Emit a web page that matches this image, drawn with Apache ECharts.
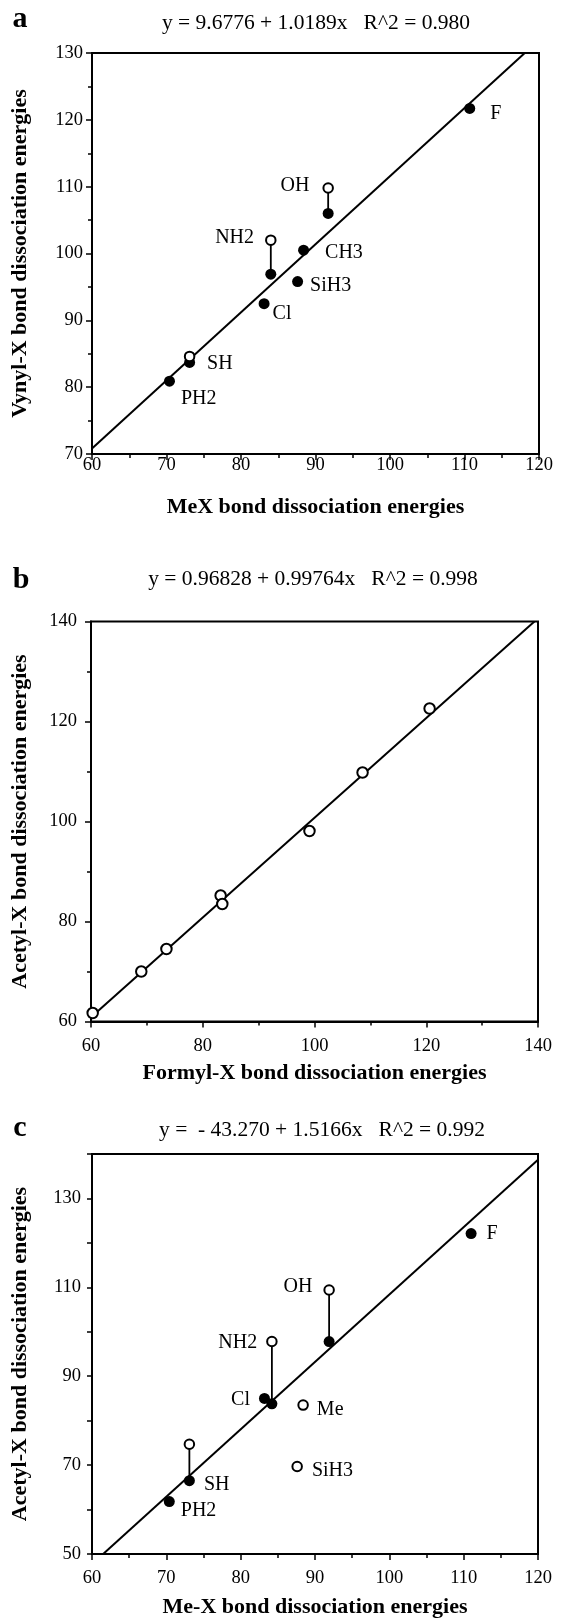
<!DOCTYPE html>
<html><head><meta charset="utf-8">
<script src="https://cdn.jsdelivr.net/npm/echarts@6/dist/echarts.min.js"></script>
<style>html,body{margin:0;padding:0;background:#fff}#c{width:573px;height:1619px}</style>
</head><body><div id="c"></div>
<script>
// ---------- Panel a : Vinyl-X vs MeX ----------
const aNames       = ['F', 'OH', 'NH2', 'CH3', 'SiH3', 'Cl', 'SH', 'PH2'];
const aMeX         = [110.7, 91.7, 84.0, 88.4, 87.6, 83.1, 73.1, 70.4];
const aVinylFilled = [121.7, 106.0, 96.9, 100.5, 95.8, 92.5, 83.7, 80.9];
const aVinylOpen   = [null, 109.8, 102.0, null, null, null, 84.6, null];
const aFit         = [9.6776, 1.0189];
const aEquation    = 'y = 9.6776 + 1.0189x   R^2 = 0.980';
const aXTicks      = [60, 70, 80, 90, 100, 110, 120];
const aYTicks      = [70, 80, 90, 100, 110, 120, 130];

// ---------- Panel b : Acetyl-X vs Formyl-X ----------
const bFormyl      = [60.3, 69.0, 73.5, 83.2, 83.5, 99.1, 108.6, 120.6];
const bAcetyl      = [61.7, 70.0, 74.5, 85.2, 83.5, 98.1, 109.8, 122.6];
const bFit         = [0.96828, 0.99764];
const bEquation    = 'y = 0.96828 + 0.99764x   R^2 = 0.998';
const bXTicks      = [60, 80, 100, 120, 140];
const bYTicks      = [60, 80, 100, 120, 140];

// ---------- Panel c : Acetyl-X vs Me-X ----------
const cNames       = ['F', 'OH', 'NH2', 'Cl', 'Me', 'SiH3', 'SH', 'PH2'];
const cMeX         = [111.0, 91.9, 84.2, 83.2, 88.4, 87.6, 73.1, 70.4];
const cAcetylFilled= [122.1, 97.8, 83.8, 85.0, null, null, 66.5, 61.8];
const cAcetylOpen  = [null, 109.4, 97.8, null, 83.5, 69.7, 74.7, null];
const cFit         = [-43.270, 1.5166];
const cEquation    = 'y =  - 43.270 + 1.5166x   R^2 = 0.992';
const cXTicks      = [60, 70, 80, 90, 100, 110, 120];
const cYTicks      = [50, 70, 90, 110, 130];
const cYMax        = 140;

const SERIF = '"Liberation Serif", "Times New Roman", serif';

// label placement (style only)
const aLabelPos = {
  F:    {on: 'filled', pos: 'right', d: 15, off: [0, 5]},
  OH:   {on: 'open',   pos: 'left',  d: 13, off: [0, -2]},
  NH2:  {on: 'open',   pos: 'left',  d: 11, off: [0, -2]},
  CH3:  {on: 'filled', pos: 'right', d: 16, off: [0, 3]},
  SiH3: {on: 'filled', pos: 'right', d: 7,  off: [0, 4]},
  Cl:   {on: 'filled', pos: 'right', d: 3,  off: [0, 10]},
  SH:   {on: 'filled', pos: 'right', d: 12, off: [0, 1]},
  PH2:  {on: 'filled', pos: 'right', d: 6,  off: [0, 18]}
};
const cLabelPos = {
  F:    {on: 'filled', pos: 'right', d: 10, off: [0, 0]},
  OH:   {on: 'open',   pos: 'left',  d: 11, off: [0, -3]},
  NH2:  {on: 'open',   pos: 'left',  d: 9,  off: [0, 1]},
  Cl:   {on: 'filled', pos: 'left',  d: 9,  off: [0, 1]},
  Me:   {on: 'open',   pos: 'right', d: 8,  off: [0, 5]},
  SiH3: {on: 'open',   pos: 'right', d: 9,  off: [0, 4]},
  SH:   {on: 'filled', pos: 'right', d: 9,  off: [0, 4]},
  PH2:  {on: 'filled', pos: 'right', d: 6,  off: [0, 9]}
};

const grids = [
  {left: 92, top: 53,    width: 447, height: 401},
  {left: 91, top: 621.5, width: 447, height: 400},
  {left: 92, top: 1154,  width: 446, height: 401}
].map(g => Object.assign(g, {show: true, borderColor: '#000', borderWidth: 2, backgroundColor: 'transparent', containLabel: false}));

function tickInterval(t) { return t[1] - t[0]; }

const TICK_FONT = 18.5, NAME_FONT = 22, POINT_FONT = 20;

function makeX(gi, ticks, name, labelMargin, nameGap) {
  return {
    type: 'value', gridIndex: gi, min: ticks[0], max: ticks[ticks.length - 1],
    interval: tickInterval(ticks), position: 'bottom',
    name: name, nameLocation: 'middle', nameGap: nameGap,
    nameTextStyle: {fontFamily: SERIF, fontWeight: 'bold', fontSize: NAME_FONT, color: '#000'},
    axisLine: {show: true, onZero: false, lineStyle: {color: '#000', width: 2}},
    axisTick: {show: true, inside: false, length: 6, lineStyle: {color: '#000', width: 1.5}},
    minorTick: {show: true, splitNumber: 2, length: 4, lineStyle: {color: '#000', width: 1.5}},
    axisLabel: {fontFamily: SERIF, fontSize: TICK_FONT, color: '#000', margin: labelMargin},
    splitLine: {show: false}
  };
}
function makeY(gi, ticks, name, labelMargin, nameGap, opts) {
  const ax = {
    type: 'value', gridIndex: gi, min: ticks[0], max: ticks[ticks.length - 1],
    interval: tickInterval(ticks), position: 'left',
    name: name, nameLocation: 'middle', nameGap: nameGap,
    nameTextStyle: {fontFamily: SERIF, fontWeight: 'bold', fontSize: NAME_FONT, color: '#000'},
    axisLine: {show: true, onZero: false, lineStyle: {color: '#000', width: 2}},
    axisTick: {show: true, inside: false, length: 6, lineStyle: {color: '#000', width: 1.5}},
    minorTick: {show: true, splitNumber: 2, length: 4, lineStyle: {color: '#000', width: 1.5}},
    axisLabel: {fontFamily: SERIF, fontSize: TICK_FONT, color: '#000', margin: labelMargin},
    splitLine: {show: false}
  };
  return Object.assign(ax, opts || {});
}

const xAxes = [
  makeX(0, aXTicks, 'MeX bond dissociation energies', 2, 42),
  makeX(1, bXTicks, 'Formyl-X bond dissociation energies', 15, 41),
  makeX(2, cXTicks, 'Me-X bond dissociation energies', 15, 42)
];
const cYStep = cYTicks[1] - cYTicks[0];
const yAxes = [
  makeY(0, aYTicks, 'Vynyl-X bond dissociation energies', 9, 61),
  makeY(1, bYTicks, 'Acetyl-X bond dissociation energies', 14, 60),
  makeY(2, cYTicks, 'Acetyl-X bond dissociation energies', 11, 61, {
    max: cYMax, interval: cYStep / 2,
    minorTick: {show: false},
    axisTick: {show: true, inside: false, length: 5, lineStyle: {color: '#000', width: 1.5}},
    axisLabel: {fontFamily: SERIF, fontSize: TICK_FONT, color: '#000', margin: 11,
      formatter: v => (cYTicks.indexOf(v) >= 0 ? String(v) : '')}
  })
];

// fit line clipped to the plot box
function fitLine(fit, xmin, xmax, ymin, ymax) {
  const f = x => fit[0] + fit[1] * x;
  let x0 = xmin, x1 = xmax;
  if (f(x0) < ymin) x0 = (ymin - fit[0]) / fit[1];
  if (f(x1) > ymax) x1 = (ymax - fit[0]) / fit[1];
  return [[x0, f(x0)], [x1, f(x1)]];
}

const series = [];
function addPanel(gi, names, xs, filled, open, fit, xr, yr, labelPos, sizes) {
  series.push({
    type: 'line', xAxisIndex: gi, yAxisIndex: gi, data: fitLine(fit, xr[0], xr[1], yr[0], yr[1]),
    symbol: 'none', silent: true, lineStyle: {color: '#000', width: 2}, z: 2, animation: false
  });
  xs.forEach((x, i) => {
    if (filled[i] != null && open[i] != null) {
      series.push({
        type: 'line', xAxisIndex: gi, yAxisIndex: gi, data: [[x, open[i]], [x, filled[i]]],
        symbol: 'none', silent: true, lineStyle: {color: '#000', width: 1.8}, z: 3, animation: false
      });
    }
  });
  function item(i, y, kind) {
    const d = {value: [xs[i], y], name: names ? names[i] : ''};
    const lp = labelPos && labelPos[names[i]];
    if (lp && lp.on === kind) {
      d.label = {show: true, formatter: names[i], position: lp.pos, distance: lp.d, offset: lp.off,
        fontFamily: SERIF, fontSize: POINT_FONT, color: '#000'};
    }
    return d;
  }
  const filledData = [], openData = [];
  xs.forEach((x, i) => {
    if (filled[i] != null) filledData.push(item(i, filled[i], 'filled'));
    if (open[i] != null) openData.push(item(i, open[i], 'open'));
  });
  if (filledData.length) series.push({
    type: 'scatter', xAxisIndex: gi, yAxisIndex: gi, data: filledData, symbol: 'circle',
    symbolSize: sizes[0], itemStyle: {color: '#000', opacity: 1}, z: 5, animation: false
  });
  if (openData.length) series.push({
    type: 'scatter', xAxisIndex: gi, yAxisIndex: gi, data: openData, symbol: 'circle',
    symbolSize: sizes[1], itemStyle: {color: '#fff', borderColor: '#000', borderWidth: 2, opacity: 1}, z: 6, animation: false
  });
}

addPanel(0, aNames, aMeX, aVinylFilled, aVinylOpen, aFit,
  [aXTicks[0], aXTicks[aXTicks.length - 1]], [aYTicks[0], aYTicks[aYTicks.length - 1]], aLabelPos, [11, 9.5]);
addPanel(1, null, bFormyl, bFormyl.map(() => null), bAcetyl, bFit,
  [bXTicks[0], bXTicks[bXTicks.length - 1]], [bYTicks[0], bYTicks[bYTicks.length - 1]], null, [11, 10.5]);
addPanel(2, cNames, cMeX, cAcetylFilled, cAcetylOpen, cFit,
  [cXTicks[0], cXTicks[cXTicks.length - 1]], [cYTicks[0], cYMax], cLabelPos, [11, 9.5]);

function txt(x, y, text, font) {
  return {type: 'text', x: x, y: y, silent: true,
    style: {text: text, font: font, fill: '#000', align: 'center', verticalAlign: 'middle',
      textAlign: 'center', textVerticalAlign: 'middle'}};
}
const graphics = [
  txt(20, 19, 'a', 'bold 30px ' + SERIF),
  txt(316, 23, aEquation, '21.5px ' + SERIF),
  txt(21, 580, 'b', 'bold 30px ' + SERIF),
  txt(313, 579, bEquation, '21.5px ' + SERIF),
  txt(20, 1128, 'c', 'bold 30px ' + SERIF),
  txt(322, 1130, cEquation, '21.5px ' + SERIF)
];

const chart = echarts.init(document.getElementById('c'), null, {renderer: 'canvas'});
chart.setOption({
  animation: false,
  backgroundColor: '#fff',
  grid: grids,
  xAxis: xAxes,
  yAxis: yAxes,
  series: series,
  graphic: graphics
});
</script>
</body></html>
